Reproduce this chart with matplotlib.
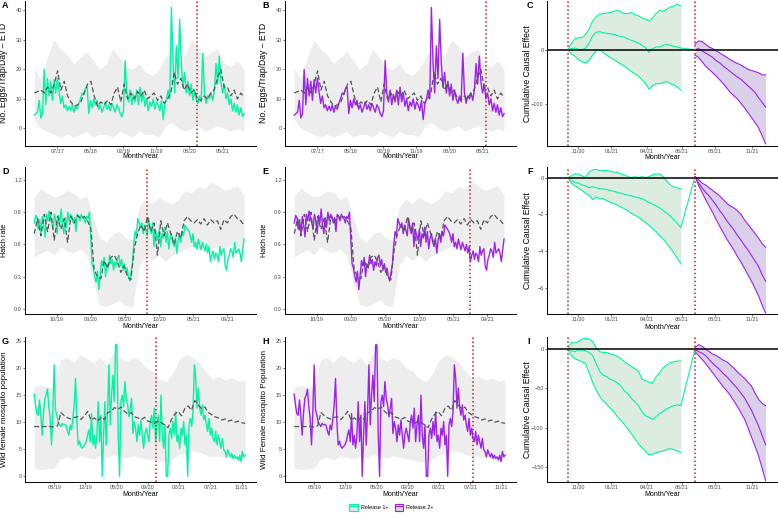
import numpy as np
import pandas as pd
import matplotlib
matplotlib.use("Agg")
import matplotlib.pyplot as plt
from matplotlib.patches import Patch
from matplotlib.lines import Line2D
from matplotlib.legend_handler import HandlerTuple

plt.rcParams['font.family'] = ['Liberation Sans', 'DejaVu Sans']

# colores
VERDE = '#00F5A0'
MORADO = '#A020F0'
VERDE_RELL = '#DCEDE0'
MORADO_RELL = '#DAD0EA'
GRIS = '#EDEDED'
ROJO = '#C81E1E'
GRIS_CF = '#555555'

# ===============================
# A / B: huevos por trampa por dia (ETD)
# ===============================
huevos_inicio, huevos_fin = '2017-01-19', '2021-11-02'
huevos_obs = [4.5, 5.0, 5.5, 9.5, 3.5, 5.0, 20.0, 8.0, 17.0, 11.0,
              16.0, 9.5, 16.5, 12.0, 17.0, 12.5, 8.5, 11.0, 7.0, 8.0,
              6.0, 7.5, 6.0, 8.0, 5.5, 7.5, 6.5, 8.5, 10.0, 12.0,
              11.5, 13.5, 14.0, 5.0, 9.5, 7.0, 10.0, 8.0, 9.5, 6.5,
              8.0, 5.5, 7.0, 9.0, 6.5, 8.0, 6.0, 8.5, 7.0, 5.5,
              8.0, 7.0, 5.0, 4.0, 6.0, 23.0, 12.0, 9.0, 13.0, 8.0,
              11.5, 9.0, 13.0, 8.0, 14.0, 9.0, 12.0, 7.5, 10.0, 6.0,
              9.0, 7.5, 10.0, 6.5, 9.0, 8.0, 6.0, 9.5, 3.0, 8.0,
              10.0, 13.0, 10.0, 41.0, 22.0, 12.0, 28.0, 17.0, 37.0, 22.0,
              14.0, 19.0, 12.0, 16.0, 11.0, 15.0, 9.5, 13.0, 10.0, 8.5,
              11.0, 9.0, 25.5, 12.0, 8.5, 11.0, 10.0, 12.0, 9.5, 13.0,
              22.0, 15.0, 24.5, 15.5, 12.0, 15.0, 10.0, 12.0, 8.0, 10.0,
              6.0, 8.5, 5.5, 8.0, 4.5, 7.0, 4.0, 5.0]
huevos_cf = [12, 12.5, 13, 12, 14, 12, 15, 19.5, 13, 16,
             11, 9, 7.5, 8, 9, 12, 15, 16, 11, 7.5,
             9, 8, 9.5, 8, 12, 14, 9, 15, 10, 12,
             10, 12.5, 11, 13, 10, 11, 12, 9.5, 11, 8.5,
             10, 12, 19, 15, 17, 13, 15, 12, 13, 10,
             9.5, 11, 10, 12, 13, 17, 20, 14, 14, 11,
             13, 10, 12, 10.5]
huevos_sup = [20, 17, 24, 30, 27, 25, 22, 24, 26, 23, 20, 22, 27, 24, 21, 20, 22,
              19, 18, 20, 24, 27, 22, 25, 30, 28, 24, 26, 27, 22, 21, 23, 20]
huevos_inf = [3, 0, -1, -2, -3, -2, -3, -2, -1, -3, -2, -2, -3, -1, -2, -3, -1,
              -2, -2, -3, 1, 2, 0, -1, 0, 1, -1, 0, 1, 0, -1, 0, -1]
huevos_ticks = ['2017-07-31', '2018-05-02', '2019-02-01', '2019-11-03', '2020-08-04', '2021-05-06']
huevos_lim = ('2016-11-03', '2022-02-09')
huevos_corte = ['2020-10-04', '2021-06-06']

# ===============================
# D / E: tasa de eclosion
# ===============================
eclosion_inicio, eclosion_fin = '2019-07-29', '2021-12-04'
eclosion_obs = [0.80, 0.87, 0.85, 0.74, 0.83, 0.70, 0.86, 0.78, 0.67, 0.88,
                0.82, 0.91, 0.85, 0.80, 0.75, 0.88, 0.82, 0.70, 0.87, 0.80,
                0.93, 0.78, 0.70, 0.85, 0.76, 0.90, 0.82, 0.88, 0.86, 0.80,
                0.85, 0.72, 0.88, 0.86, 0.82, 0.88, 0.85, 0.84, 0.80, 0.86,
                0.84, 0.90, 0.65, 0.42, 0.38, 0.30, 0.25, 0.35, 0.18, 0.32,
                0.45, 0.40, 0.48, 0.30, 0.42, 0.38, 0.50, 0.42, 0.46, 0.36,
                0.44, 0.40, 0.48, 0.50, 0.40, 0.46, 0.36, 0.42, 0.34, 0.38,
                0.30, 0.26, 0.34, 0.42, 0.60, 0.72, 0.68, 0.84, 0.80, 0.76,
                0.80, 0.70, 0.78, 0.73, 0.68, 0.84, 0.76, 0.70, 0.80, 0.58,
                0.74, 0.68, 0.64, 0.74, 0.58, 0.70, 0.66, 0.76, 0.62, 0.72,
                0.56, 0.66, 0.70, 0.62, 0.58, 0.66, 0.52, 0.64, 0.70, 0.62,
                0.72, 0.68, 0.78, 0.76, 0.74, 0.72, 0.68, 0.62, 0.70, 0.58,
                0.62, 0.56, 0.65, 0.60, 0.55, 0.62, 0.58, 0.54, 0.60, 0.52,
                0.58, 0.44, 0.50, 0.54, 0.46, 0.52, 0.50, 0.44, 0.58, 0.50,
                0.54, 0.56, 0.40, 0.36, 0.46, 0.50, 0.56, 0.54, 0.48, 0.62,
                0.52, 0.54, 0.56, 0.52, 0.44, 0.55, 0.65]
eclosion_cf = [0.70, 0.84, 0.68, 0.88, 0.72, 0.90, 0.64, 0.86, 0.74, 0.84,
               0.62, 0.86, 0.80, 0.87, 0.84, 0.86, 0.82, 0.75, 0.36, 0.30,
               0.28, 0.45, 0.38, 0.48, 0.50, 0.44, 0.34, 0.40, 0.30, 0.27,
               0.55, 0.70, 0.78, 0.72, 0.86, 0.72, 0.80, 0.50, 0.82, 0.68,
               0.80, 0.70, 0.60, 0.72, 0.66, 0.82, 0.86, 0.82, 0.80, 0.83,
               0.79, 0.84, 0.78, 0.83, 0.80, 0.82, 0.74, 0.83, 0.80, 0.86,
               0.88, 0.84, 0.82, 0.78]
eclosion_sup = [1.05, 1.12, 1.08, 1.04, 1.06, 1.10, 1.08, 1.02, 1.05, 0.85,
                0.66, 0.62, 0.70, 0.72, 0.66, 0.64, 0.95, 1.02, 0.98, 1.04,
                1.00, 0.98, 1.02, 1.10, 1.08, 1.14, 1.12, 1.18, 1.15, 1.10,
                1.12, 1.15, 1.05]
eclosion_inf = [0.48, 0.52, 0.55, 0.50, 0.58, 0.54, 0.52, 0.56, 0.50, 0.25,
                0.04, 0.02, 0.05, 0.08, 0.03, 0.02, 0.40, 0.50, 0.45, 0.50,
                0.44, 0.50, 0.52, 0.56, 0.58, 0.54, 0.60, 0.56, 0.58, 0.55,
                0.60, 0.58, 0.56]
eclosion_ticks = ['2019-10-28', '2020-03-16', '2020-08-03', '2020-12-21', '2021-05-10', '2021-09-27']
eclosion_lim = ('2019-06-21', '2022-01-22')
eclosion_corte = ['2020-11-01', '2021-07-16']

# ===============================
# G / H: poblacion de hembras silvestres
# ===============================
hembras_inicio, hembras_fin = '2019-05-07', '2021-12-08'
hembras_obs = [15.2, 13.2, 11.6, 11.3, 14.1, 11.3, 7.6, 11.6, 14.4, 15.0,
               16.1, 12.9, 10.7, 5.8, 11.9, 20.6, 12.3, 11.3, 10.0, 9.6,
               9.2, 9.8, 9.5, 9.6, 9.4, 8.3, 7.6, 9.5, 8.6, 10.7,
               13.2, 18.1, 10.1, 5.8, 6.5, 5.5, 5.2, 5.5, 5.8, 6.4,
               7.6, 8.6, 6.4, 11.6, 5.8, 7.6, 5.2, 7.6, 13.8, 6.4,
               11.3, 0.0, 7.6, 13.8, 5.8, 11.9, 20.6, 9.5, 15.0, 18.7,
               13.8, 24.3, 24.3, 7.6, 0.0, 13.8, 15.0, 12.9, 17.5, 14.4,
               13.2, 11.0, 12.6, 14.4, 7.9, 10.1, 8.9, 6.4, 9.5, 7.6,
               10.4, 7.6, 5.2, 7.9, 8.9, 7.6, 6.4, 10.1, 11.3, 8.9,
               12.6, 6.4, 9.5, 11.3, 6.4, 15.0, 7.6, 5.2, 9.5, 0.0,
               0.0, 7.6, 8.9, 7.0, 10.1, 7.6, 11.9, 6.4, 7.6, 5.2,
               8.9, 7.6, 10.1, 5.8, 7.6, 0.0, 9.5, 10.7, 9.2, 11.9,
               20.6, 18.1, 12.6, 16.3, 12.6, 11.3, 13.2, 10.4, 11.3, 9.5,
               8.3, 10.7, 7.6, 8.9, 7.0, 6.4, 8.3, 5.8, 7.6, 6.4,
               5.2, 7.0, 4.9, 4.6, 3.6, 4.9, 4.2, 3.6, 4.2, 3.3,
               3.9, 3.3, 3.6, 3.0, 3.9, 2.7, 4.6, 3.6, 3.9]
hembras_cf = [9.2, 9.2, 9.2, 9.2, 9.2, 9.2, 9.1, 9.3, 11.8, 11.2,
              10.8, 10.6, 10.9, 11.0, 10.5, 11.2, 12.0, 10.4, 10.8, 10.2,
              11.0, 10.5, 11.8, 12.0, 12.7, 12.4, 12.8, 12.0, 11.5, 11.8,
              11.0, 10.8, 10.5, 10.9, 10.2, 10.0, 9.8, 10.2, 9.9, 9.5,
              9.0, 10.5, 11.5, 12.0, 11.2, 12.5, 13.0, 12.2, 14.0, 13.2,
              12.5, 12.8, 11.8, 11.4, 11.0, 10.8, 10.4, 10.6, 10.2, 10.4,
              10.0, 10.2, 9.9, 9.8]
hembras_sup = [16.5, 16.8, 16.5, 16.2, 21.5, 22.0, 21.0, 22.5, 21.8, 21.0,
               22.0, 20.5, 22.8, 22.0, 21.2, 22.0, 21.5, 20.0, 19.5, 18.0,
               17.5, 19.0, 21.5, 22.5, 22.0, 21.0, 19.5, 18.0, 18.5, 17.8,
               18.2, 17.6, 17.8]
hembras_inf = [1.5, 1.2, 1.4, 1.5, 3.2, 3.6, 3.0, 3.8, 3.5, 3.2,
               3.8, 3.4, 4.0, 3.6, 3.4, 3.8, 3.5, 3.2, 3.0, 2.8,
               2.6, 3.2, 4.0, 4.4, 4.8, 4.5, 4.0, 3.6, 3.8, 3.4,
               3.5, 3.3, 3.4]
hembras_ticks = ['2019-08-05', '2019-12-23', '2020-05-11', '2020-09-28', '2021-02-15', '2021-07-05', '2021-11-22']
hembras_lim = ('2019-03-27', '2022-01-26')
hembras_corte = ['2020-11-03', '2021-07-16']

# ===============================
# C / F / I: efecto causal acumulado (indice semanal)
# ===============================
semana_r1 = np.arange(0, 33)
semana_r2 = np.arange(36, 57)
efecto_ticks = [3.0, 12.3, 22.4, 32.3, 41.7, 52.1]
efecto_etiquetas = ['11/20', '01/21', '04/21', '06/21', '08/21', '11/21']

# C - huevos
c_sup1 = [0, 12, 20, 22, 22, 28, 38, 52, 60, 65, 66, 67, 68, 70, 72, 69, 66,
          66, 68, 64, 62, 58, 56, 52, 58, 66, 72, 70, 74, 78, 80, 83, 80]
c_med1 = [0, 2, 3, 1, 0, 3, 12, 25, 32, 33, 31, 30, 29, 28, 26, 24, 23,
          20, 17, 15, 12, 8, 4, -5, 2, 5, 5, 8, 10, 8, 6, 5, 3]
c_inf1 = [0, -8, -12, -18, -22, -24, -20, -10, -2, 0, -5, -10, -14, -18, -22, -26, -30,
          -35, -40, -44, -48, -55, -62, -72, -66, -62, -62, -60, -58, -62, -64, -68, -74]
c_sup2 = [10, 16, 15, 10, 5, 2, -2, -6, -10, -14, -18, -22, -25, -28, -32, -36, -38,
          -40, -42, -46, -46]
c_med2 = [0, 2, -2, -6, -10, -14, -20, -24, -30, -35, -40, -45, -50, -54, -60, -66, -72,
          -78, -88, -96, -105]
c_inf2 = [-10, -14, -22, -30, -36, -42, -48, -55, -62, -70, -78, -84, -90, -98, -106, -115, -124,
          -133, -143, -157, -172]

# F - eclosion
f_sup1 = [0, 0.1, 0.2, 0.2, 0.1, 0.0, 0.3, 0.42, 0.45, 0.4, 0.38, 0.4, 0.35, 0.3, 0.3, 0.2, 0.15,
          0.05, 0.0, 0.05, 0.0, 0.05, 0.0, 0.05, 0.15, 0.2, 0.2, 0.05, -0.2, -0.4, -0.5, -0.55, -0.6]
f_med1 = [0, -0.15, -0.25, -0.3, -0.4, -0.45, -0.55, -0.5, -0.55, -0.6, -0.62, -0.65, -0.7, -0.75,
          -0.8, -0.85, -0.9, -0.95, -1.0, -1.05, -1.1, -1.15, -1.25, -1.35, -1.45, -1.55, -1.65,
          -1.8, -1.95, -2.1, -2.3, -2.5, -2.72]
f_inf1 = [0, -0.3, -0.45, -0.55, -0.7, -0.85, -0.95, -1.2, -1.05, -1.15, -1.15, -1.25, -1.35,
          -1.4, -1.5, -1.6, -1.7, -1.8, -1.95, -2.05, -2.15, -2.3, -2.45, -2.6, -2.8, -2.95,
          -3.15, -3.35, -3.6, -3.85, -4.1, -4.4, -4.7]
f_sup2 = [0.05, -0.1, -0.3, -0.4, -0.55, -0.7, -0.85, -1.0, -1.2, -1.4, -1.55, -1.65, -1.8,
          -2.0, -2.3, -2.55, -2.8, -3.05, -3.3, -3.6, -3.8]
f_med2 = [0.05, -0.3, -0.55, -0.8, -1.0, -1.25, -1.5, -1.8, -2.05, -2.35, -2.6, -2.85, -3.15,
          -3.4, -3.7, -3.95, -4.25, -4.55, -4.85, -5.3, -5.65]
f_inf2 = [0.05, -0.4, -0.8, -1.2, -1.55, -1.9, -2.3, -2.65, -3.0, -3.35, -3.65, -3.95, -4.3,
          -4.6, -4.95, -5.3, -5.65, -6.05, -6.45, -6.95, -7.4]

# I - hembras
i_sup1 = [0, 9, 8, 10, 13, 14, 13, 10, 2, -3, -4, -4, -6, -7, -9, -12, -16,
          -19, -22, -25, -28, -38, -40, -42, -43, -35, -30, -24, -20, -17, -16, -15, -15]
i_med1 = [0, -2, -3, -1, -1, -2, -4, -8, -18, -28, -33, -35, -38, -40, -43, -47, -53,
          -57, -63, -67, -72, -80, -85, -87, -90, -86, -82, -79, -76, -74, -72, -71, -72]
i_inf1 = [0, -8, -12, -14, -16, -18, -30, -42, -52, -60, -66, -70, -75, -80, -86, -91, -96,
          -102, -108, -114, -121, -126, -130, -135, -134, -132, -131, -130, -128, -127, -128, -130, -132]
i_sup2 = [2, 6, 4, 0, -3, -6, -8, -11, -14, -16, -20, -24, -29, -33, -37, -42, -47,
          -56, -64, -69, -72]
i_med2 = [0, -3, -5, -8, -13, -18, -22, -26, -31, -35, -40, -45, -50, -56, -62, -70, -78,
          -88, -98, -110, -122]
i_inf2 = [-3, -8, -13, -18, -24, -30, -36, -42, -48, -53, -59, -66, -73, -81, -89, -100, -112,
          -124, -136, -152, -168]


def estilo(ax):
    ax.spines['top'].set_visible(False)
    ax.spines['right'].set_visible(False)
    for s in ['left', 'bottom']:
        ax.spines[s].set_linewidth(0.7)
        ax.spines[s].set_color('black')
    ax.tick_params(labelsize=4, length=1.5, width=0.5, pad=0.8,
                   color='#333333', labelcolor='#4D4D4D')


def etiquetas(ax, ylabel, ysize, xoff, yoff):
    ax.set_ylabel(ylabel, fontsize=ysize)
    ax.yaxis.label.set_va('center')
    alto = ax.get_position().height * 517
    ancho = ax.get_position().width * 778
    ax.yaxis.set_label_coords(-xoff / ancho, 0.5)
    ax.set_xlabel('Month/Year', fontsize=5)
    ax.xaxis.set_label_coords(0.5, -yoff / alto)


def dibujar_serie(ax, inicio, fin, obs, cf, sup, inf, color, corte, ticks, lim):
    f_obs = pd.date_range(inicio, fin, periods=len(obs))
    f_cf = pd.date_range(inicio, fin, periods=len(cf))
    f_banda = pd.date_range(inicio, fin, periods=len(sup))
    ax.fill_between(f_banda, inf, sup, color=GRIS, lw=0, zorder=1)
    ax.plot(f_obs, obs, color=color, lw=1.0, zorder=2)
    ax.plot(f_cf, cf, color=GRIS_CF, lw=0.9, ls=(0, (4, 2)), zorder=3)
    ax.axvline(pd.Timestamp(corte), color=ROJO, lw=1.1, ls=(0, (1, 1.6)), zorder=4)
    t = pd.to_datetime(ticks)
    ax.set_xticks(t)
    ax.set_xticklabels([d.strftime('%m/%y') for d in t])
    ax.set_xlim(pd.Timestamp(lim[0]), pd.Timestamp(lim[1]))
    estilo(ax)


def dibujar_efecto(ax, sup1, med1, inf1, sup2, med2, inf2):
    ax.axhline(0, color='black', lw=1.1, zorder=3)
    ax.fill_between(semana_r1, inf1, sup1, color=VERDE_RELL, lw=0, zorder=1)
    ax.fill_between(semana_r2, inf2, sup2, color=MORADO_RELL, lw=0, zorder=1)
    ax.plot(semana_r1, sup1, color=VERDE, lw=0.8, zorder=2)
    ax.plot(semana_r1, inf1, color=VERDE, lw=0.8, zorder=2)
    ax.plot(np.append(semana_r1, semana_r2[0]), np.append(med1, med2[0]), color=VERDE, lw=0.8, zorder=2)
    ax.plot(semana_r2, sup2, color=MORADO, lw=0.8, zorder=2)
    ax.plot(semana_r2, inf2, color=MORADO, lw=0.8, zorder=2)
    ax.plot(semana_r2, med2, color=MORADO, lw=0.8, zorder=2)
    ax.axvline(semana_r1[0], color=ROJO, lw=1.1, ls=(0, (1, 1.6)), zorder=4)
    ax.axvline(semana_r2[0], color=ROJO, lw=1.1, ls=(0, (1, 1.6)), zorder=4)
    ax.set_xticks(efecto_ticks)
    ax.set_xticklabels(efecto_etiquetas)
    ax.set_xlim(-5.9, 59.5)
    estilo(ax)


fig = plt.figure(figsize=(7.78, 5.17), dpi=100)

col_x = [25 / 778, 285 / 778, 547 / 778]
ancho = 231 / 778
filas = [(1, 145.5), (167, 314), (337, 482)]


def crear(fila, col):
    arriba, abajo = filas[fila]
    return fig.add_axes([col_x[col], 1 - abajo / 517, ancho, (abajo - arriba) / 517])


# fila 1
axA = crear(0, 0)
dibujar_serie(axA, huevos_inicio, huevos_fin, huevos_obs, huevos_cf, huevos_sup, huevos_inf,
              VERDE, huevos_corte[0], huevos_ticks, huevos_lim)
axA.set_ylim(-5.8, 43.2)
axA.set_yticks([0, 10, 20, 30, 40])
etiquetas(axA, 'No. Eggs/Trap/Day – ETD', 6.2, 21, 7.5)

axB = crear(0, 1)
dibujar_serie(axB, huevos_inicio, huevos_fin, huevos_obs, huevos_cf, huevos_sup, huevos_inf,
              MORADO, huevos_corte[1], huevos_ticks, huevos_lim)
axB.set_ylim(-5.8, 43.2)
axB.set_yticks([0, 10, 20, 30, 40])
etiquetas(axB, 'No. Eggs/Trap/Day – ETD', 6.2, 21, 7.5)

axC = crear(0, 2)
dibujar_efecto(axC, c_sup1, c_med1, c_inf1, c_sup2, c_med2, c_inf2)
axC.set_ylim(-175, 89)
axC.set_yticks([-100, 0])
etiquetas(axC, 'Cumulative Causal Effect', 6.2, 19, 8.5)

# fila 2
axD = crear(1, 0)
dibujar_serie(axD, eclosion_inicio, eclosion_fin, eclosion_obs, eclosion_cf, eclosion_sup, eclosion_inf,
              VERDE, eclosion_corte[0], eclosion_ticks, eclosion_lim)
axD.set_ylim(-0.047, 1.32)
axD.set_yticks([0.0, 0.3, 0.6, 0.9, 1.2])
axD.set_yticklabels(['0.0', '0.3', '0.6', '0.9', '1.2'])
etiquetas(axD, 'Hatch rate', 5.2, 21, 8.5)

axE = crear(1, 1)
dibujar_serie(axE, eclosion_inicio, eclosion_fin, eclosion_obs, eclosion_cf, eclosion_sup, eclosion_inf,
              MORADO, eclosion_corte[1], eclosion_ticks, eclosion_lim)
axE.set_ylim(-0.047, 1.32)
axE.set_yticks([0.0, 0.3, 0.6, 0.9, 1.2])
axE.set_yticklabels(['0.0', '0.3', '0.6', '0.9', '1.2'])
etiquetas(axE, 'Hatch rate', 5.2, 21, 8.5)

axF = crear(1, 2)
dibujar_efecto(axF, f_sup1, f_med1, f_inf1, f_sup2, f_med2, f_inf2)
axF.set_ylim(-7.44, 0.58)
axF.set_yticks([-6, -4, -2, 0])
etiquetas(axF, 'Cumulative Causal Effect', 6.2, 19, 10)

# fila 3
axG = crear(2, 0)
dibujar_serie(axG, hembras_inicio, hembras_fin, hembras_obs, hembras_cf, hembras_sup, hembras_inf,
              VERDE, hembras_corte[0], hembras_ticks, hembras_lim)
axG.set_ylim(-1.05, 25.75)
axG.set_yticks([0, 5, 10, 15, 20, 25])
etiquetas(axG, 'Wild female mosquito population', 5.8, 21, 9.5)

axH = crear(2, 1)
dibujar_serie(axH, hembras_inicio, hembras_fin, hembras_obs, hembras_cf, hembras_sup, hembras_inf,
              MORADO, hembras_corte[1], hembras_ticks, hembras_lim)
axH.set_ylim(-1.05, 25.75)
axH.set_yticks([0, 5, 10, 15, 20, 25])
etiquetas(axH, 'Wild Female mosquito Population', 5.8, 21, 9.5)

axI = crear(2, 2)
dibujar_efecto(axI, i_sup1, i_med1, i_inf1, i_sup2, i_med2, i_inf2)
axI.set_ylim(-169.6, 15.7)
axI.set_yticks([-150, -100, -50, 0])
etiquetas(axI, 'Cumulative Causal Effect', 6.2, 19, 9.5)

# letras de los paneles
letras = [('A', 2, 5), ('B', 262, 5), ('C', 527, 5),
          ('D', 2, 172), ('E', 262, 172), ('F', 527, 172),
          ('G', 2, 342), ('H', 262, 342), ('I', 527, 342)]
for letra, px, py in letras:
    fig.text(px / 778, 1 - py / 517, letra, fontsize=6.5, fontweight='bold', va='center', ha='left')

# leyenda
manejadores = [(Patch(facecolor=VERDE_RELL, edgecolor=VERDE, lw=0.8), Line2D([], [], color=VERDE, lw=0.8)),
               (Patch(facecolor=MORADO_RELL, edgecolor=MORADO, lw=0.8), Line2D([], [], color=MORADO, lw=0.8))]
fig.legend(manejadores, ['Release 1+', 'Release 2+'], handler_map={tuple: HandlerTuple(ndivide=1)},
           loc='center', bbox_to_anchor=(0.503, 0.019), ncol=2, frameon=False, fontsize=3.9,
           handlelength=1.6, handleheight=1.6, columnspacing=1.2, handletextpad=0.5)

fig.savefig('out.png', dpi=100)
